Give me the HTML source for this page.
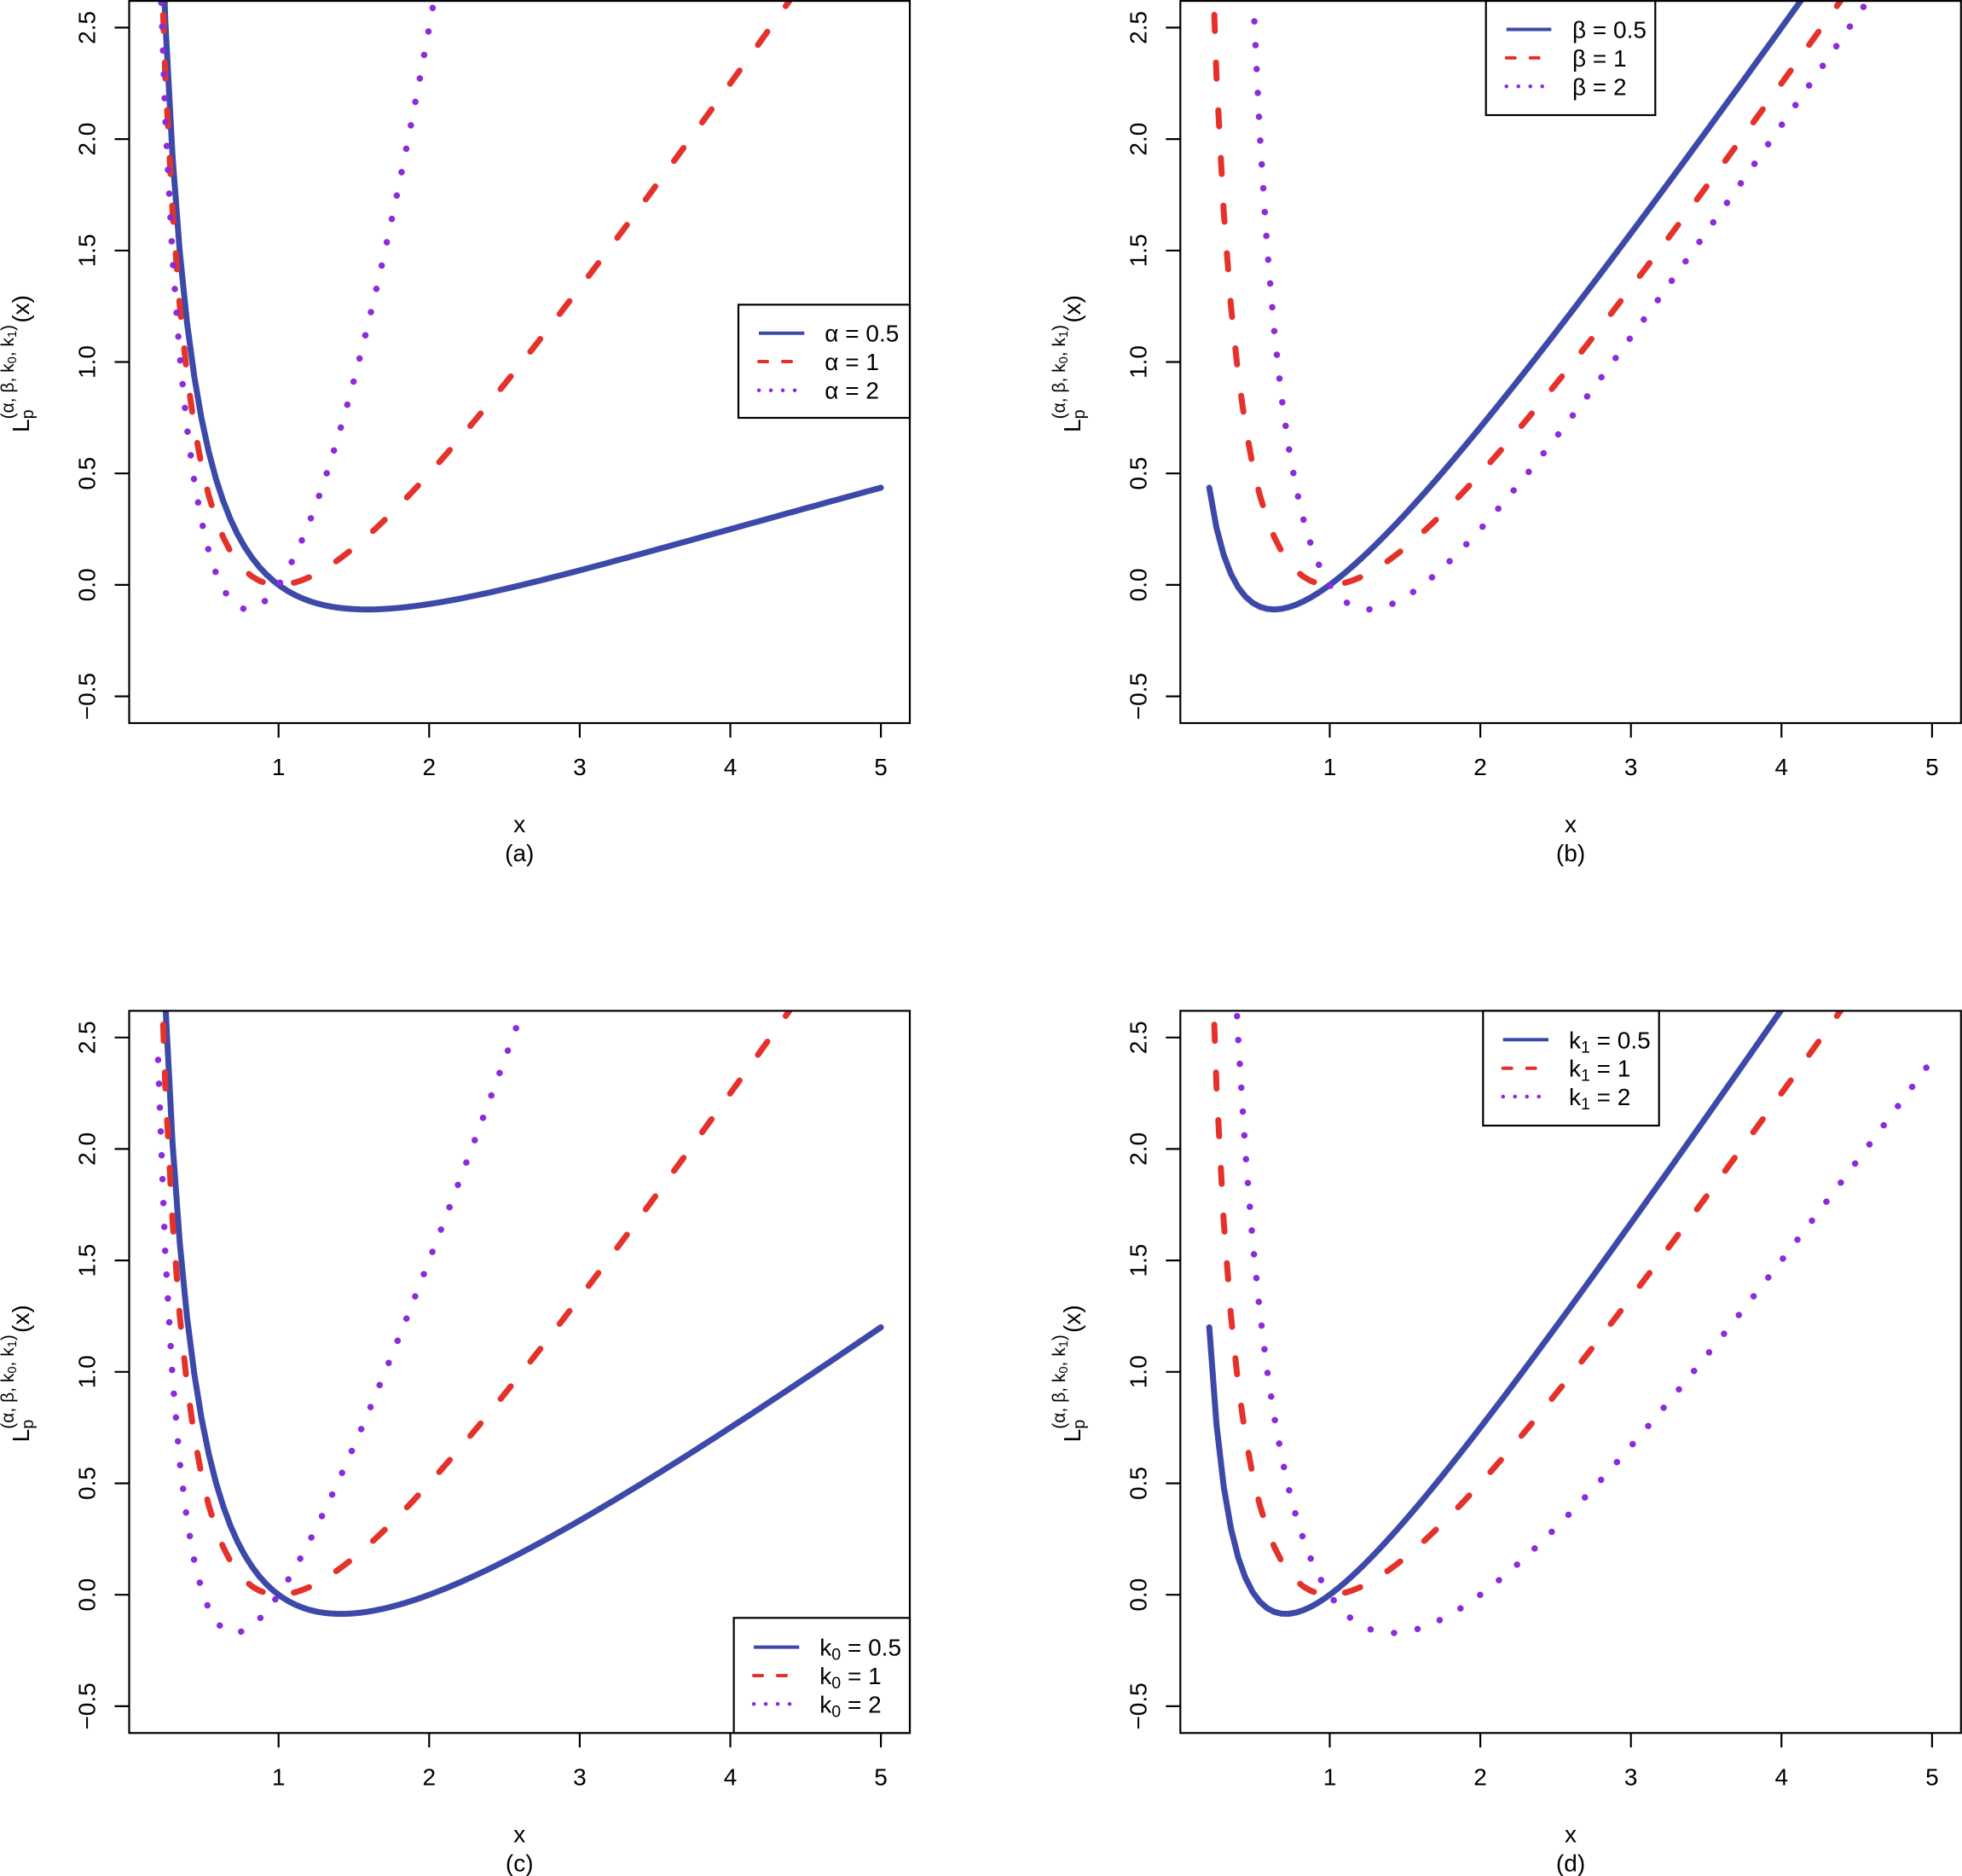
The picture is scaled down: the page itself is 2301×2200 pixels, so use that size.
<!DOCTYPE html>
<html>
<head>
<meta charset="utf-8">
<style>
html,body{margin:0;padding:0;background:#fff;}
svg{display:block;background:#fff;}
text{font-family:"Liberation Sans",Arial,sans-serif;font-size:28px;fill:#000;}
.m{text-anchor:middle;}
.ax{fill:none;stroke:#000;stroke-width:2.2;}
.s1{fill:none;stroke:#3C49A8;stroke-width:7;stroke-linejoin:round;stroke-linecap:round;}
.s2{fill:none;stroke:#E4322B;stroke-width:7;stroke-linejoin:round;stroke-linecap:round;stroke-dasharray:19 37;}
.s3{fill:none;stroke:#8B2BDB;stroke-width:7.5;stroke-linejoin:round;stroke-linecap:round;stroke-dasharray:0.1 27.9;}
.l1{fill:none;stroke:#3C49A8;stroke-width:4;}
.l2{fill:none;stroke:#E4322B;stroke-width:4;stroke-linecap:round;stroke-dasharray:10 18;}
.l3{fill:none;stroke:#8B2BDB;stroke-width:4.5;stroke-linecap:round;stroke-dasharray:0.1 13.9;}
.lg{fill:#fff;stroke:#000;stroke-width:2.2;}
.sp{font-size:21px;white-space:pre;}
.ss{font-size:14.7px;}
</style>
</head>
<body>
<svg width="2301" height="2200" viewBox="0 0 2301 2200">
<defs>
<clipPath id="cp"><rect x="151.5" y="1.1" width="915.5" height="846.9"/></clipPath>
</defs>

<!-- ================= PANEL A ================= -->
<g>
<g clip-path="url(#cp)">
<path id="pa1" class="s1" d=""/>
<path id="pa2" class="s2" d=""/>
<path id="pa3" class="s3" d=""/>
</g>
<rect x="151.5" y="1.1" width="915.5" height="846.9" class="ax"/>
<path class="ax" d="M326.7 848V865M503.3 848V865M679.9 848V865M856.5 848V865M1033.1 848V865M134.5 816.6H151.5M134.5 685.9H151.5M134.5 555.2H151.5M134.5 424.5H151.5M134.5 293.8H151.5M134.5 163.1H151.5M134.5 32.4H151.5"/>
<text class="m" x="326.7" y="909">1</text>
<text class="m" x="503.3" y="909">2</text>
<text class="m" x="679.9" y="909">3</text>
<text class="m" x="856.5" y="909">4</text>
<text class="m" x="1033.1" y="909">5</text>
<text class="m" transform="translate(111.7 816.6) rotate(-90)">−0.5</text>
<text class="m" transform="translate(111.7 685.9) rotate(-90)">0.0</text>
<text class="m" transform="translate(111.7 555.2) rotate(-90)">0.5</text>
<text class="m" transform="translate(111.7 424.5) rotate(-90)">1.0</text>
<text class="m" transform="translate(111.7 293.8) rotate(-90)">1.5</text>
<text class="m" transform="translate(111.7 163.1) rotate(-90)">2.0</text>
<text class="m" transform="translate(111.7 32.4) rotate(-90)">2.5</text>
<text class="m" x="609.25" y="976">x</text>
<text class="m" x="609.25" y="1010">(a)</text>
<g transform="translate(34 427) rotate(-90)">
<text x="-80" y="0">L</text>
<text x="-64.4" y="5" style="font-size:20px">p</text>
<text x="-64.4" y="-18" class="sp">(α, β, k<tspan class="ss" dy="3">0</tspan><tspan dy="-3">, k</tspan><tspan class="ss" dy="3">1</tspan><tspan dy="-3">)</tspan></text>
<text x="81" y="0" style="text-anchor:end">(x)</text>
</g>
<rect class="lg" x="866" y="357.3" width="201" height="132.7"/>
<path class="l1" d="M890 390.7H943.3"/>
<path class="l2" d="M890 424H943.3"/>
<path class="l3" d="M890 457.7H943.3"/>
<text x="967.3" y="400.7">α = 0.5</text>
<text x="967.3" y="434">α = 1</text>
<text x="967.3" y="467.7">α = 2</text>
</g>

<!-- ================= PANEL B ================= -->
<g transform="translate(1232.8 0)">
<g clip-path="url(#cp)">
<path id="pb1" class="s1" d=""/>
<path id="pb2" class="s2" d=""/>
<path id="pb3" class="s3" d=""/>
</g>
<rect x="151.5" y="1.1" width="915.5" height="846.9" class="ax"/>
<path class="ax" d="M326.7 848V865M503.3 848V865M679.9 848V865M856.5 848V865M1033.1 848V865M134.5 816.6H151.5M134.5 685.9H151.5M134.5 555.2H151.5M134.5 424.5H151.5M134.5 293.8H151.5M134.5 163.1H151.5M134.5 32.4H151.5"/>
<text class="m" x="326.7" y="909">1</text>
<text class="m" x="503.3" y="909">2</text>
<text class="m" x="679.9" y="909">3</text>
<text class="m" x="856.5" y="909">4</text>
<text class="m" x="1033.1" y="909">5</text>
<text class="m" transform="translate(111.7 816.6) rotate(-90)">−0.5</text>
<text class="m" transform="translate(111.7 685.9) rotate(-90)">0.0</text>
<text class="m" transform="translate(111.7 555.2) rotate(-90)">0.5</text>
<text class="m" transform="translate(111.7 424.5) rotate(-90)">1.0</text>
<text class="m" transform="translate(111.7 293.8) rotate(-90)">1.5</text>
<text class="m" transform="translate(111.7 163.1) rotate(-90)">2.0</text>
<text class="m" transform="translate(111.7 32.4) rotate(-90)">2.5</text>
<text class="m" x="609.25" y="976">x</text>
<text class="m" x="609.25" y="1010">(b)</text>
<g transform="translate(34 427) rotate(-90)">
<text x="-80" y="0">L</text>
<text x="-64.4" y="5" style="font-size:20px">p</text>
<text x="-64.4" y="-18" class="sp">(α, β, k<tspan class="ss" dy="3">0</tspan><tspan dy="-3">, k</tspan><tspan class="ss" dy="3">1</tspan><tspan dy="-3">)</tspan></text>
<text x="81" y="0" style="text-anchor:end">(x)</text>
</g>
<rect class="lg" x="509.9" y="1.1" width="198.6" height="133.9"/>
<path class="l1" d="M533.9 34.5H586.5"/>
<path class="l2" d="M533.9 67.9H586.5"/>
<path class="l3" d="M533.9 101.3H586.5"/>
<text x="611.2" y="44.5">β = 0.5</text>
<text x="611.2" y="77.9">β = 1</text>
<text x="611.2" y="111.3">β = 2</text>
</g>

<!-- ================= PANEL C ================= -->
<g transform="translate(0 1184.3)">
<g clip-path="url(#cp)">
<path id="pc1" class="s1" d=""/>
<path id="pc2" class="s2" d=""/>
<path id="pc3" class="s3" d=""/>
</g>
<rect x="151.5" y="1.1" width="915.5" height="846.9" class="ax"/>
<path class="ax" d="M326.7 848V865M503.3 848V865M679.9 848V865M856.5 848V865M1033.1 848V865M134.5 816.6H151.5M134.5 685.9H151.5M134.5 555.2H151.5M134.5 424.5H151.5M134.5 293.8H151.5M134.5 163.1H151.5M134.5 32.4H151.5"/>
<text class="m" x="326.7" y="909">1</text>
<text class="m" x="503.3" y="909">2</text>
<text class="m" x="679.9" y="909">3</text>
<text class="m" x="856.5" y="909">4</text>
<text class="m" x="1033.1" y="909">5</text>
<text class="m" transform="translate(111.7 816.6) rotate(-90)">−0.5</text>
<text class="m" transform="translate(111.7 685.9) rotate(-90)">0.0</text>
<text class="m" transform="translate(111.7 555.2) rotate(-90)">0.5</text>
<text class="m" transform="translate(111.7 424.5) rotate(-90)">1.0</text>
<text class="m" transform="translate(111.7 293.8) rotate(-90)">1.5</text>
<text class="m" transform="translate(111.7 163.1) rotate(-90)">2.0</text>
<text class="m" transform="translate(111.7 32.4) rotate(-90)">2.5</text>
<text class="m" x="609.25" y="976">x</text>
<text class="m" x="609.25" y="1010">(c)</text>
<g transform="translate(34 427) rotate(-90)">
<text x="-80" y="0">L</text>
<text x="-64.4" y="5" style="font-size:20px">p</text>
<text x="-64.4" y="-18" class="sp">(α, β, k<tspan class="ss" dy="3">0</tspan><tspan dy="-3">, k</tspan><tspan class="ss" dy="3">1</tspan><tspan dy="-3">)</tspan></text>
<text x="81" y="0" style="text-anchor:end">(x)</text>
</g>
<rect class="lg" x="860.6" y="713" width="206.4" height="135"/>
<path class="l1" d="M884 747.3H937.3"/>
<path class="l2" d="M884 780.7H937.3"/>
<path class="l3" d="M884 814H937.3"/>
<text x="961.3" y="757.3" style="white-space:pre">k<tspan style="font-size:19.6px" dy="5">0</tspan><tspan dy="-5"> = 0.5</tspan></text>
<text x="961.3" y="790.7" style="white-space:pre">k<tspan style="font-size:19.6px" dy="5">0</tspan><tspan dy="-5"> = 1</tspan></text>
<text x="961.3" y="824" style="white-space:pre">k<tspan style="font-size:19.6px" dy="5">0</tspan><tspan dy="-5"> = 2</tspan></text>
</g>

<!-- ================= PANEL D ================= -->
<g transform="translate(1232.8 1184.3)">
<g clip-path="url(#cp)">
<path id="pd1" class="s1" d=""/>
<path id="pd2" class="s2" d=""/>
<path id="pd3" class="s3" d=""/>
</g>
<rect x="151.5" y="1.1" width="915.5" height="846.9" class="ax"/>
<path class="ax" d="M326.7 848V865M503.3 848V865M679.9 848V865M856.5 848V865M1033.1 848V865M134.5 816.6H151.5M134.5 685.9H151.5M134.5 555.2H151.5M134.5 424.5H151.5M134.5 293.8H151.5M134.5 163.1H151.5M134.5 32.4H151.5"/>
<text class="m" x="326.7" y="909">1</text>
<text class="m" x="503.3" y="909">2</text>
<text class="m" x="679.9" y="909">3</text>
<text class="m" x="856.5" y="909">4</text>
<text class="m" x="1033.1" y="909">5</text>
<text class="m" transform="translate(111.7 816.6) rotate(-90)">−0.5</text>
<text class="m" transform="translate(111.7 685.9) rotate(-90)">0.0</text>
<text class="m" transform="translate(111.7 555.2) rotate(-90)">0.5</text>
<text class="m" transform="translate(111.7 424.5) rotate(-90)">1.0</text>
<text class="m" transform="translate(111.7 293.8) rotate(-90)">1.5</text>
<text class="m" transform="translate(111.7 163.1) rotate(-90)">2.0</text>
<text class="m" transform="translate(111.7 32.4) rotate(-90)">2.5</text>
<text class="m" x="609.25" y="976">x</text>
<text class="m" x="609.25" y="1010">(d)</text>
<g transform="translate(34 427) rotate(-90)">
<text x="-80" y="0">L</text>
<text x="-64.4" y="5" style="font-size:20px">p</text>
<text x="-64.4" y="-18" class="sp">(α, β, k<tspan class="ss" dy="3">0</tspan><tspan dy="-3">, k</tspan><tspan class="ss" dy="3">1</tspan><tspan dy="-3">)</tspan></text>
<text x="81" y="0" style="text-anchor:end">(x)</text>
</g>
<rect class="lg" x="506.5" y="1.1" width="206.4" height="134.6"/>
<path class="l1" d="M529.9 35H583.2"/>
<path class="l2" d="M529.9 68.4H583.2"/>
<path class="l3" d="M529.9 101.7H583.2"/>
<text x="607.2" y="45" style="white-space:pre">k<tspan style="font-size:19.6px" dy="5">1</tspan><tspan dy="-5"> = 0.5</tspan></text>
<text x="607.2" y="78.4" style="white-space:pre">k<tspan style="font-size:19.6px" dy="5">1</tspan><tspan dy="-5"> = 1</tspan></text>
<text x="607.2" y="111.7" style="white-space:pre">k<tspan style="font-size:19.6px" dy="5">1</tspan><tspan dy="-5"> = 2</tspan></text>
</g>
</svg>

<script>
(function(){
  function mk(f){
    var d = "", n = 101;
    for (var i = 0; i < n; i++) {
      var x = 0.2 + i * 4.8 / (n - 1);
      var y = f(x);
      var px = 151.5 + (x - 0.008) * 176.6;
      var py = 848 - (y + 0.62) * 261.4;
      d += (i ? "L" : "M") + px.toFixed(2) + " " + py.toFixed(2);
    }
    return d;
  }
  function L(x, a, b, k0, k1){ return k0 * (Math.pow(x, a) - 1) + k1 * (Math.pow(x, -b) - 1); }
  var defs = {
    pa1: function(x){ return L(x, 0.5, 1, 1, 1); },
    pa2: function(x){ return L(x, 1, 1, 1, 1); },
    pa3: function(x){ return L(x, 2, 1, 1, 1); },
    pb1: function(x){ return L(x, 1, 0.5, 1, 1); },
    pb2: function(x){ return L(x, 1, 1, 1, 1); },
    pb3: function(x){ return L(x, 1, 2, 1, 1); },
    pc1: function(x){ return L(x, 1, 1, 0.5, 1); },
    pc2: function(x){ return L(x, 1, 1, 1, 1); },
    pc3: function(x){ return L(x, 1, 1, 2, 1); },
    pd1: function(x){ return L(x, 1, 1, 1, 0.5); },
    pd2: function(x){ return L(x, 1, 1, 1, 1); },
    pd3: function(x){ return L(x, 1, 1, 1, 2); }
  };
  for (var k in defs) {
    var el = document.getElementById(k);
    if (el) el.setAttribute("d", mk(defs[k]));
  }
})();
</script>
</body>
</html>
